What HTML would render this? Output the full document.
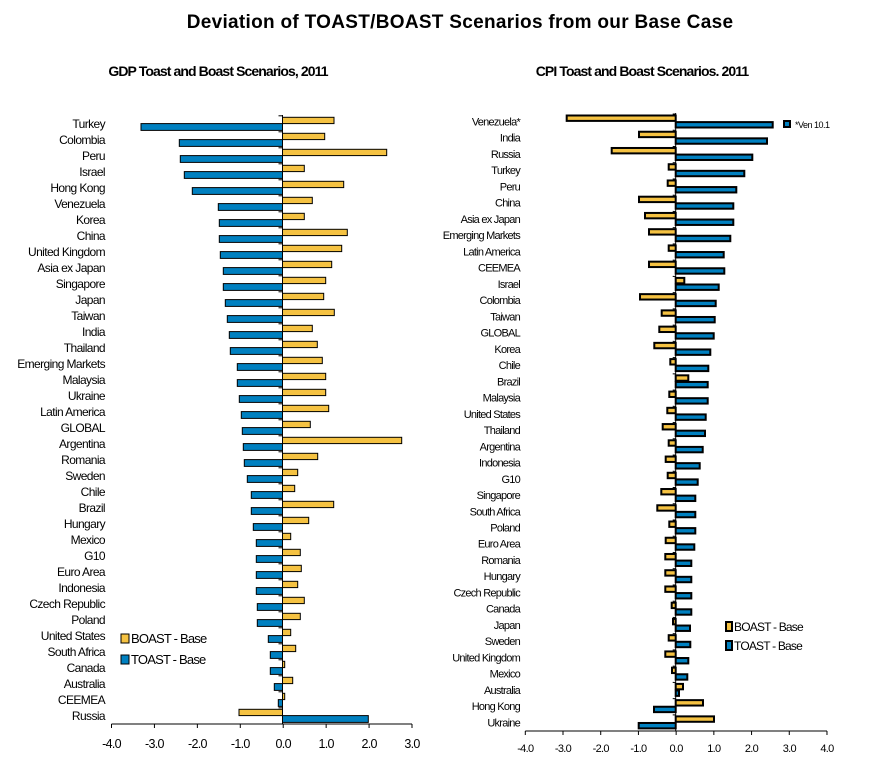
<!DOCTYPE html>
<html><head><meta charset="utf-8"><style>
html,body{margin:0;padding:0;background:#fff;}
svg{display:block;font-family:"Liberation Sans",Arial,sans-serif;}
.l{font-size:12px;letter-spacing:-0.6px;text-anchor:end;fill:#000}
.r{font-size:11px;letter-spacing:-0.75px;text-anchor:end;fill:#000}
.tl{font-size:12.5px;letter-spacing:-0.7px;text-anchor:middle}
.tr{font-size:11px;letter-spacing:-0.7px;text-anchor:middle}
</style></head><body>
<svg id="s" width="873" height="763" xmlns="http://www.w3.org/2000/svg">
<text x="460" y="28" font-size="19" font-weight="bold" text-anchor="middle" letter-spacing="0.3">Deviation of TOAST/BOAST Scenarios from our Base Case</text>
<text x="218" y="76" font-size="14" font-weight="bold" text-anchor="middle" letter-spacing="-0.9">GDP Toast and Boast Scenarios, 2011</text>
<text x="642" y="76" font-size="14" font-weight="bold" text-anchor="middle" letter-spacing="-0.9">CPI Toast and Boast Scenarios. 2011</text>
<g class="l">
<text x="105" y="128">Turkey</text><text x="105" y="144">Colombia</text><text x="105" y="160">Peru</text><text x="105" y="176">Israel</text><text x="105" y="192">Hong Kong</text><text x="105" y="208">Venezuela</text><text x="105" y="224">Korea</text><text x="105" y="240">China</text><text x="105" y="256">United Kingdom</text><text x="105" y="272">Asia ex Japan</text><text x="105" y="288">Singapore</text><text x="105" y="304">Japan</text><text x="105" y="320">Taiwan</text><text x="105" y="336">India</text><text x="105" y="352">Thailand</text><text x="105" y="368">Emerging Markets</text><text x="105" y="384">Malaysia</text><text x="105" y="400">Ukraine</text><text x="105" y="416">Latin America</text><text x="105" y="432">GLOBAL</text><text x="105" y="448">Argentina</text><text x="105" y="464">Romania</text><text x="105" y="480">Sweden</text><text x="105" y="496">Chile</text><text x="105" y="512">Brazil</text><text x="105" y="528">Hungary</text><text x="105" y="544">Mexico</text><text x="105" y="560">G10</text><text x="105" y="576">Euro Area</text><text x="105" y="592">Indonesia</text><text x="105" y="608">Czech Republic</text><text x="105" y="624">Poland</text><text x="105" y="640">United States</text><text x="105" y="656">South Africa</text><text x="105" y="672">Canada</text><text x="105" y="688">Australia</text><text x="105" y="704">CEEMEA</text><text x="105" y="720">Russia</text>
</g>
<g class="r">
<text x="520" y="125.5">Venezuela*</text><text x="520" y="141.7">India</text><text x="520" y="158">Russia</text><text x="520" y="174.2">Turkey</text><text x="520" y="190.5">Peru</text><text x="520" y="206.7">China</text><text x="520" y="222.9">Asia ex Japan</text><text x="520" y="239.2">Emerging Markets</text><text x="520" y="255.4">Latin America</text><text x="520" y="271.7">CEEMEA</text><text x="520" y="287.9">Israel</text><text x="520" y="304.1">Colombia</text><text x="520" y="320.4">Taiwan</text><text x="520" y="336.6">GLOBAL</text><text x="520" y="352.9">Korea</text><text x="520" y="369.1">Chile</text><text x="520" y="385.3">Brazil</text><text x="520" y="401.6">Malaysia</text><text x="520" y="417.8">United States</text><text x="520" y="434.1">Thailand</text><text x="520" y="450.3">Argentina</text><text x="520" y="466.5">Indonesia</text><text x="520" y="482.8">G10</text><text x="520" y="499">Singapore</text><text x="520" y="515.3">South Africa</text><text x="520" y="531.5">Poland</text><text x="520" y="547.7">Euro Area</text><text x="520" y="564">Romania</text><text x="520" y="580.2">Hungary</text><text x="520" y="596.5">Czech Republic</text><text x="520" y="612.7">Canada</text><text x="520" y="628.9">Japan</text><text x="520" y="645.2">Sweden</text><text x="520" y="661.4">United Kingdom</text><text x="520" y="677.7">Mexico</text><text x="520" y="693.9">Australia</text><text x="520" y="710.1">Hong Kong</text><text x="520" y="726.4">Ukraine</text>
</g>
<g class="tl">
<text x="111.5" y="748">-4.0</text><text x="154.4" y="748">-3.0</text><text x="197.4" y="748">-2.0</text><text x="240.3" y="748">-1.0</text><text x="283.2" y="748">0.0</text><text x="326.1" y="748">1.0</text><text x="369.1" y="748">2.0</text><text x="412" y="748">3.0</text>
</g>
<g class="tr">
<text x="525.3" y="752">-4.0</text><text x="563" y="752">-3.0</text><text x="600.7" y="752">-2.0</text><text x="638.4" y="752">-1.0</text><text x="676.1" y="752">0.0</text><text x="713.8" y="752">1.0</text><text x="751.5" y="752">2.0</text><text x="789.3" y="752">3.0</text><text x="827" y="752">4.0</text>
</g>
<rect x="121" y="634" width="8" height="9" fill="#F5C242" stroke="#000" stroke-width="1"/>
<rect x="121" y="655" width="8" height="9" fill="#0080C0" stroke="#000" stroke-width="1"/>
<text x="131" y="643" font-size="13" letter-spacing="-0.8">BOAST - Base</text>
<text x="131" y="664" font-size="13" letter-spacing="-0.8">TOAST - Base</text>
<rect x="726" y="622" width="6" height="9" fill="#F5C242" stroke="#000" stroke-width="2"/>
<rect x="726" y="641" width="6" height="9" fill="#0080C0" stroke="#000" stroke-width="2"/>
<text x="734" y="631" font-size="12" letter-spacing="-0.8">BOAST - Base</text>
<text x="734" y="650" font-size="12" letter-spacing="-0.8">TOAST - Base</text>
<rect x="784" y="121" width="6" height="6" fill="#0080C0" stroke="#000" stroke-width="2"/>
<text x="795" y="128" font-size="9" letter-spacing="-0.5">*Ven 10.1</text>
<g id="bars"></g>
</svg>
<script>
var NS="http://www.w3.org/2000/svg",g=document.getElementById("bars");
function R(x1,x2,y,h,f,sw){var r=document.createElementNS(NS,"rect");r.setAttribute("x",Math.min(x1,x2));r.setAttribute("y",y);r.setAttribute("width",Math.max(Math.abs(x2-x1),0.5));r.setAttribute("height",h);r.setAttribute("fill",f);r.setAttribute("stroke","#000");r.setAttribute("stroke-width",sw);g.appendChild(r);}
function L(x1,y1,x2,y2,w){var l=document.createElementNS(NS,"line");l.setAttribute("x1",x1);l.setAttribute("y1",y1);l.setAttribute("x2",x2);l.setAttribute("y2",y2);l.setAttribute("stroke","#000");l.setAttribute("stroke-width",w||1);g.appendChild(l);}
var O="#F5C242",B="#0080C0";
var lB=[334,324.7,386.7,304.3,343.7,312.3,304.3,347.3,341.7,331.7,325.7,323.7,334.3,312.3,317.3,322.3,325.7,325.7,328.7,310.3,401.7,317.7,297.7,294.7,333.7,308.7,290.7,300.3,301.3,297.7,304.3,300.3,290.7,295.7,284.7,292.7,284.7,239];
var lT=[141,179.3,180.3,184.3,192.3,218.3,219.3,219.3,220.3,223.3,223.3,225.3,227.3,229.3,230.3,237.3,237.3,239.3,241.3,242.3,243.3,244.3,247.3,251.3,251.3,253.3,256.3,256.3,256.3,256.3,257.3,257.3,268.3,270.3,270.3,274.3,278.3,368.3];
var z=282.5;
for(var i=0;i<38;i++){var y=117.3+16*i;R(z,lB[i],y,6.3,O,1);R(z,lT[i],y+6.3,6.8,B,1);L(z-4,y-1.5,z,y-1.5);}
L(z,115,z,724);L(111.5,724,412,724);
for(var k=0;k<8;k++){var x=111.5+k*42.93;L(x,724,x,728);}
var rB=[566.7,639,611.7,668.7,667.7,639,645,649,668.7,649,684.3,640,661.7,659.3,654.3,670.3,688.3,669.3,667.3,662.7,668.7,665.7,667.7,661.3,657.3,669.3,665.7,665.3,665.3,665.3,671.7,673,668.7,665.3,672,683,703,714];
var rT=[772.7,767,752.3,744.3,736.3,733.3,733.3,730.3,723.7,724.3,718.7,715.7,714.7,713.7,710.3,708.3,707.7,707.7,705.7,705,702.7,699.7,697.7,695.3,695.3,695.3,694.3,691.3,691.3,691.3,691.3,690,690.3,688.3,687.3,679,654,638.7];
var zr=675.7;
for(var i=0;i<38;i++){var y=115.5+16.24*i;R(zr,rB[i],y,5.4,O,2);R(zr,rT[i],y+6.6,5.4,B,2);L(zr-3,y-1.5,zr,y-1.5);}
L(zr,113,zr,731);L(525.3,731,827,731);
for(var k=0;k<9;k++){var x=525.3+k*37.71;L(x,731,x,735);}
</script>
</body></html>
